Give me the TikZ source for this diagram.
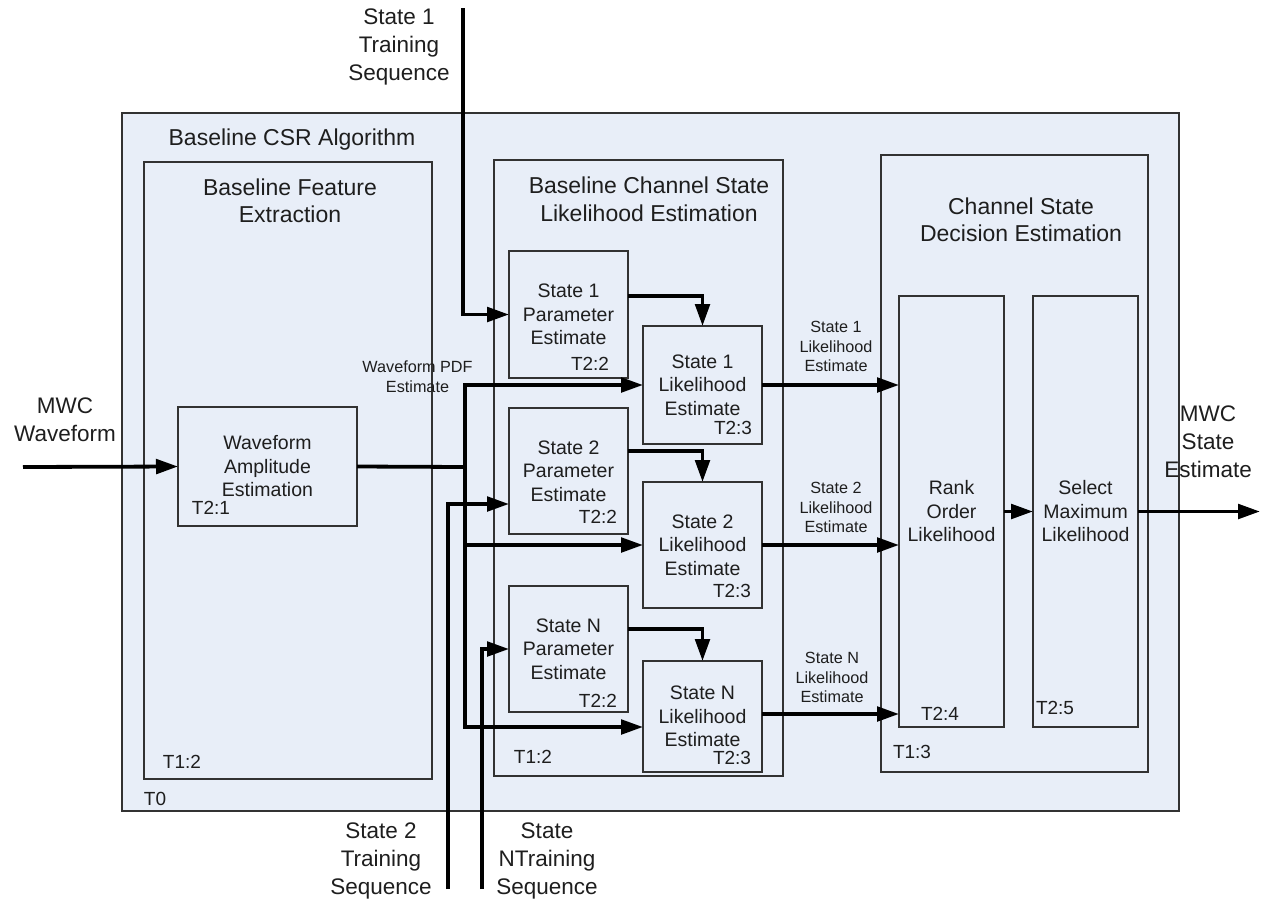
\documentclass[tikz,border=0pt]{standalone}
\usepackage{fontspec}
\setmainfont{Liberation Sans}
\usetikzlibrary{arrows.meta}

\definecolor{bgc}{RGB}{232,238,248}
\definecolor{boxc}{RGB}{50,50,50}
\definecolor{textc}{RGB}{30,30,30}

\begin{document}
\begin{tikzpicture}[x=1pt,y=-1pt,
  blk/.style={draw=boxc, line width=1.3pt, fill=bgc, inner sep=0pt, outer sep=0pt,
              align=center, text=textc, font=\fontsize{19.5}{23.5}\selectfont},
  titletext/.style={align=center, text=textc, inner sep=0pt, font=\fontsize{23}{27.5}\selectfont},
  exttext/.style={align=center, text=textc, inner sep=0pt, font=\fontsize{22.5}{28}\selectfont},
  smalltext/.style={align=center, text=textc, inner sep=0pt, font=\fontsize{16.2}{19.5}\selectfont},
  tagtext/.style={text=textc, inner sep=0pt, font=\fontsize{19}{23}\selectfont},
  wire/.style={draw=black, line width=3.8pt},
  arr/.style={wire, -{Triangle[length=22pt,width=14.5pt]}}
]
\useasboundingbox (0,0) rectangle (1265,902);

% containers
\node[blk, minimum width=1057pt, minimum height=698pt] (top) at (650.5,462) {};
\node[blk, minimum width=288pt, minimum height=617pt] (feat) at (288,470.5) {};
\node[blk, minimum width=289pt, minimum height=616pt] (chan) at (638.5,468) {};
\node[blk, minimum width=267pt, minimum height=617pt] (dec) at (1014.5,463.5) {};

% processing blocks
\node[blk, minimum width=179pt, minimum height=119pt] (wae) at (267.5,466.5) {Waveform\\Amplitude\\Estimation};
\node[blk, minimum width=119pt, minimum height=127pt] (s1p) at (568.5,314.5) {State 1\\Parameter\\Estimate};
\node[blk, minimum width=119pt, minimum height=118pt] (s1l) at (702.5,385) {State 1\\Likelihood\\Estimate};
\node[blk, minimum width=119pt, minimum height=126pt] (s2p) at (568.5,471) {State 2\\Parameter\\Estimate};
\node[blk, minimum width=119pt, minimum height=126pt] (s2l) at (702.5,545) {State 2\\Likelihood\\Estimate};
\node[blk, minimum width=119pt, minimum height=126pt] (snp) at (568.5,649) {State N\\Parameter\\Estimate};
\node[blk, minimum width=119pt, minimum height=111pt] (snl) at (702.5,716.5) {State N\\Likelihood\\Estimate};
\node[blk, minimum width=105pt, minimum height=431pt] (rank) at (951.5,511.5) {Rank\\Order\\Likelihood};
\node[blk, minimum width=105pt, minimum height=431pt] (sel) at (1085.5,511.5) {Select\\Maximum\\Likelihood};

% container titles
\node[titletext] (ttop) at (292,140) {Baseline CSR Algorithm};
\node[titletext] (tfeat) at (290,201) {Baseline Feature\\Extraction};
\node[titletext] (tchan) at (649,199.5) {Baseline Channel State\\Likelihood Estimation};
\node[titletext] (tdec) at (1021,220) {Channel State\\Decision Estimation};

% tags
\node[tagtext] (g0) at (155,799) {T0};
\node[tagtext] (g12a) at (182,762) {T1:2};
\node[tagtext] (g12b) at (533,757) {T1:2};
\node[tagtext] (g13) at (912,752) {T1:3};
\node[tagtext] (g21) at (211,508) {T2:1};
\node[tagtext] (g22a) at (590,364) {T2:2};
\node[tagtext] (g23a) at (733,428) {T2:3};
\node[tagtext] (g22b) at (598,517) {T2:2};
\node[tagtext] (g23b) at (732,591) {T2:3};
\node[tagtext] (g22c) at (598,701) {T2:2};
\node[tagtext] (g23c) at (732,758) {T2:3};
\node[tagtext] (g24) at (940,714) {T2:4};
\node[tagtext] (g25) at (1055,708) {T2:5};

% signal labels
\node[exttext] (lt1) at (399,47) {State 1\\Training\\Sequence};
\node[exttext] (lt2) at (381,861) {State 2\\Training\\Sequence};
\node[exttext] (ltn) at (547,861) {State\\NTraining\\Sequence};
\node[exttext] (lin) at (65,419.5) {MWC\\Waveform};
\node[exttext] (lout) at (1208,441.5) {MWC\\State\\Estimate};
\node[smalltext] (lpdf) at (417.5,376.5) {Waveform PDF\\Estimate};
\node[smalltext] (ll1) at (836,346.5) {State 1\\Likelihood\\Estimate};
\node[smalltext] (ll2) at (836,507.5) {State 2\\Likelihood\\Estimate};
\node[smalltext] (lln) at (832,677.5) {State N\\Likelihood\\Estimate};

% free ends of the connectors
\coordinate (in) at (23,467);
\coordinate (out) at (1260,511.5);
\coordinate (tr1) at (463,8);
\coordinate (tr2) at (448,889);
\coordinate (trn) at (482,889);
\coordinate (j) at (465,467);

% waveform path
\draw[arr] (in) -- (wae.west);
\draw[wire] (wae.east) -- (j);
\draw[arr] (j) |- (s1l.west);
\draw[arr] (j) |- (s2l.west);
\draw[arr] (j) |- ([yshift=-10.5pt]snl.west);

% training inputs
\draw[arr] (tr1) |- (s1p.west);
\draw[arr] (tr2) |- ([yshift=-33pt]s2p.west);
\draw[arr] (trn) |- (snp.west);

% parameter to likelihood
\draw[arr] ([yshift=18.5pt]s1p.east) -| (s1l.north);
\draw[arr] ([yshift=20pt]s2p.east) -| (s2l.north);
\draw[arr] ([yshift=20pt]snp.east) -| (snl.north);

% likelihoods to decision
\draw[arr] (s1l.east) -- (s1l.east -| rank.west);
\draw[arr] (s2l.east) -- (s2l.east -| rank.west);
\draw[arr] ([yshift=2.5pt]snl.east) -- ([yshift=2.5pt]snl.east -| rank.west);
\draw[arr] (rank.east) -- (sel.west);
\draw[arr] (sel.east) -- (out);
\end{tikzpicture}
\end{document}
